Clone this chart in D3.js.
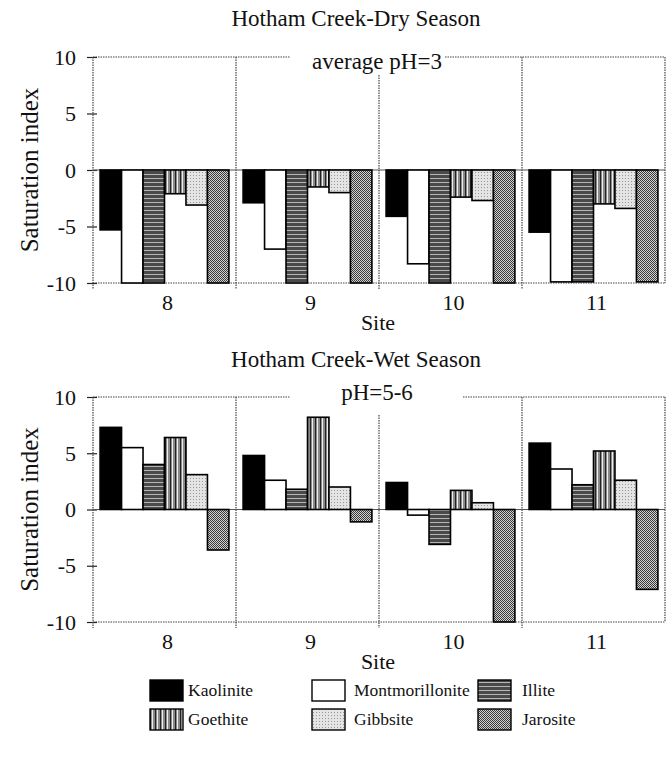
<!DOCTYPE html>
<html><head><meta charset="utf-8">
<script src="https://cdn.jsdelivr.net/npm/d3@7"></script>
<style>body{margin:0;background:#fff}svg{display:block}svg text{font-family:"Liberation Serif","DejaVu Serif",serif !important;fill:#111}</style>
</head><body>
<svg id="c" width="667" height="759"></svg>
<script>
const sites = ["8","9","10","11"];
const minerals = ["Kaolinite","Montmorillonite","Illite","Goethite","Gibbsite","Jarosite"];
const yTicks = [10,5,0,-5,-10];
// dry season saturation index per site
const dryKaolinite = [-5.3,-2.9,-4.1,-5.5];
const dryMontmorillonite = [-10,-7.0,-8.3,-9.9];
const dryIllite = [-10,-10,-10,-9.9];
const dryGoethite = [-2.1,-1.5,-2.4,-3.0];
const dryGibbsite = [-3.1,-2.0,-2.7,-3.4];
const dryJarosite = [-10,-10,-10,-9.9];
// wet season
const wetKaolinite = [7.3,4.8,2.4,5.9];
const wetMontmorillonite = [5.5,2.6,-0.5,3.6];
const wetIllite = [4.0,1.8,-3.1,2.2];
const wetGoethite = [6.4,8.2,1.7,5.2];
const wetGibbsite = [3.1,2.0,0.6,2.6];
const wetJarosite = [-3.6,-1.1,-10,-7.1];

const dry = [dryKaolinite,dryMontmorillonite,dryIllite,dryGoethite,dryGibbsite,dryJarosite];
const wet = [wetKaolinite,wetMontmorillonite,wetIllite,wetGoethite,wetGibbsite,wetJarosite];

const FONT = "Liberation Serif, DejaVu Serif, serif";
const svg = d3.select("#c").attr("font-family",FONT);
const defs = svg.append("defs");
function pat(id,w,h,bg,draw){
  const p = defs.append("pattern").attr("id",id).attr("patternUnits","userSpaceOnUse").attr("width",w).attr("height",h);
  p.append("rect").attr("width",w).attr("height",h).attr("fill",bg);
  draw(p);
}
pat("illite",4,4,"#4a4a4a",p=>{p.append("rect").attr("y",2).attr("width",4).attr("height",1).attr("fill","#b5b5b5");});
pat("goethite",5,4,"#8a8a8a",p=>{p.append("rect").attr("x",0).attr("width",1).attr("height",4).attr("fill","#222");p.append("rect").attr("x",2).attr("width",1).attr("height",4).attr("fill","#eee");});
pat("gibbsite",3,3,"#e4e4e4",p=>{p.append("rect").attr("x",1).attr("y",1).attr("width",1).attr("height",1).attr("fill","#999");});
pat("jarosite",2,2,"#d0d0d0",p=>{p.append("rect").attr("width",1).attr("height",1).attr("fill","#3a3a3a");p.append("rect").attr("x",1).attr("y",1).attr("width",1).attr("height",1).attr("fill","#3a3a3a");});
const fills = ["#000","#fff","url(#illite)","url(#goethite)","url(#gibbsite)","url(#jarosite)"];

const left = 93, right = 665;
const x = d3.scaleBand().domain(sites).range([left,right]).paddingInner(0).paddingOuter(0);
const xm = d3.scaleBand().domain(minerals).range([0,x.bandwidth()]).paddingInner(0).paddingOuter(0.33);

function txt(sel){ return sel.attr("font-family",FONT).attr("fill","#111"); }

function panel(data, top, bottom, title, titleY, sub, subY, gap){
  const y = d3.scaleLinear().domain([-10,10]).range([bottom,top]);
  const g = svg.append("g");
  g.append("text").call(txt).attr("x",356).attr("y",titleY).attr("text-anchor","middle").attr("font-size",23).text(title);
  const dot = sel => sel.attr("stroke","#444").attr("stroke-width",1.2).attr("stroke-dasharray","1.5,1");
  g.append("line").attr("x1",left).attr("x2",gap[0]).attr("y1",top).attr("y2",top).call(dot);
  g.append("line").attr("x1",gap[1]).attr("x2",right).attr("y1",top).attr("y2",top).call(dot);
  g.append("line").attr("x1",left).attr("x2",right).attr("y1",bottom).attr("y2",bottom).call(dot);
  g.append("line").attr("x1",right).attr("x2",right).attr("y1",top).attr("y2",bottom).call(dot);
  sites.slice(1).forEach((s,i)=>{
    const sx = x(s);
    g.append("line").attr("x1",sx).attr("x2",sx).attr("y1",i===1?top+18:top).attr("y2",bottom+6).call(dot);
  });
  g.append("text").call(txt).attr("x",377).attr("y",subY).attr("text-anchor","middle").attr("font-size",23).text(sub);
  const ax = d3.axisLeft(y).tickValues(yTicks).tickFormat(d=>String(d)).tickSize(6).tickPadding(11);
  const axg = g.append("g").attr("transform",`translate(${left},0)`).call(ax).attr("font-family",FONT);
  axg.select(".domain").remove();
  axg.selectAll(".tick line").attr("x2",-6).attr("x1",4).attr("stroke","#222").attr("stroke-width",1.2);
  axg.selectAll(".tick text").call(txt).attr("font-size",22);
  g.append("line").attr("x1",left).attr("x2",left).attr("y1",top).attr("y2",bottom+6).call(dot);
  g.append("line").attr("x1",left).attr("x2",right).attr("y1",y(0)).attr("y2",y(0)).attr("stroke","#555").attr("stroke-width",1.2);
  sites.forEach((s,si)=>{
    minerals.forEach((m,mi)=>{
      const v = data[mi][si];
      g.append("rect").attr("x",x(s)+xm(m)).attr("width",xm.bandwidth())
        .attr("y",y(Math.max(0,v))).attr("height",Math.abs(y(v)-y(0)))
        .attr("fill",fills[mi]).attr("stroke","#000").attr("stroke-width",1.6);
    });
    g.append("text").call(txt).attr("x",x(s)+x.bandwidth()/2+3).attr("y",bottom+27).attr("text-anchor","middle").attr("font-size",22).text(s);
  });
  g.append("text").call(txt).attr("x",378).attr("y",bottom+47).attr("text-anchor","middle").attr("font-size",22).text("Site");
  g.append("text").call(txt).attr("transform",`translate(38,${(top+bottom)/2}) rotate(-90)`).attr("text-anchor","middle").attr("font-size",25).text("Saturation index");
}
panel(dry,57,283,"Hotham Creek-Dry Season",26,"average pH=3",69,[290,445]);
panel(wet,397,622,"Hotham Creek-Wet Season",367,"pH=5-6",400,[290,463]);

const legX = [150,312,478];
const legTx = [38,42,44];
const legY = [680,709];
minerals.forEach((m,i)=>{
  const lx = legX[i%3], ly = legY[Math.floor(i/3)];
  svg.append("rect").attr("x",lx).attr("y",ly).attr("width",33).attr("height",21).attr("fill",fills[i]).attr("stroke","#000").attr("stroke-width",1.4);
  svg.append("text").call(txt).attr("x",lx+legTx[i%3]).attr("y",ly+16).attr("font-size",17.5).text(m);
});
</script>
</body></html>
